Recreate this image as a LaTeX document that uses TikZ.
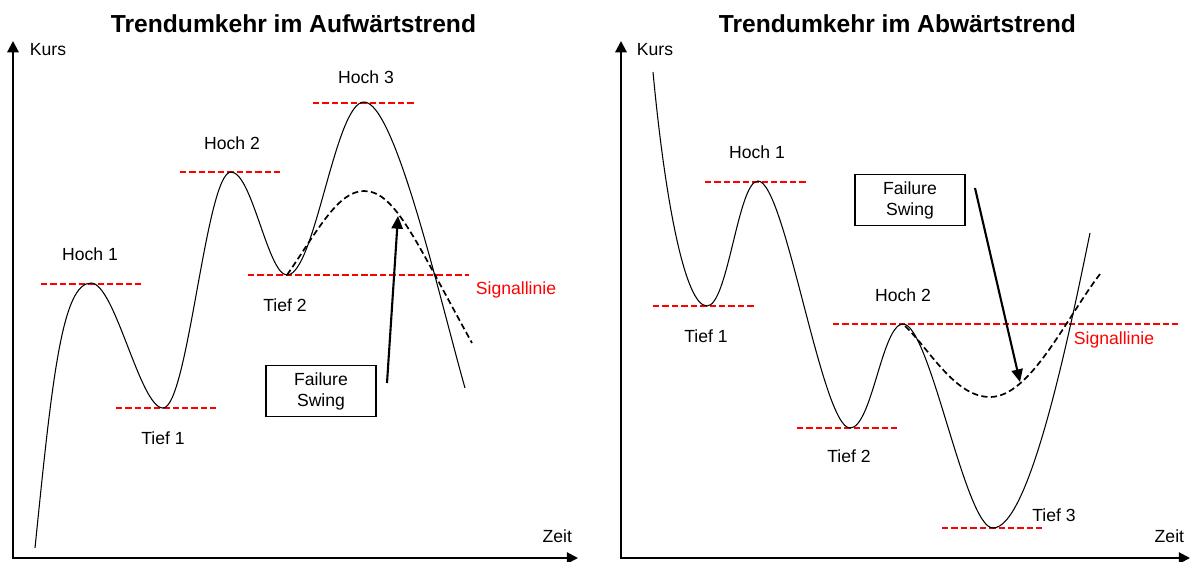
\documentclass[tikz,border=0pt]{standalone}
\usepackage{fontspec}
\setmainfont{Liberation Sans}
\usetikzlibrary{arrows.meta}

\begin{document}
\begin{tikzpicture}[x=0.025cm,y=-0.025cm,
        axis/.style={line width=1.5pt,>={Triangle[length=8pt,width=8pt]}},
        curve/.style={line width=0.75pt},
        swing/.style={line width=1.2pt,dash pattern=on 4.4pt off 2.4pt},
        level/.style={red,line width=1.4pt,dash pattern=on 4.6pt off 2.1pt},
        lbl/.style={font=\fontsize{12.5}{14}\selectfont},
        ttl/.style={font=\fontsize{17.5}{20}\selectfont\bfseries,anchor=west},
        box/.style={draw,line width=1pt,align=center,minimum width=2.75cm,minimum height=1.275cm,font=\fontsize{12.5}{15}\selectfont},
        fail/.style={line width=1.5pt,-{Triangle[length=9pt,width=8pt]}}]
    \useasboundingbox (0,0) rectangle (1191,561);

    % ---------- Left: Aufwaertstrend ----------
    \node[ttl] (ttlL) at (106,24) {Trendumkehr im Aufwärtstrend};

    % Axes
    \coordinate (oL) at (13,558);
    \coordinate (yL) at (13,41);
    \coordinate (xL) at (578,558);
    \draw[axis,<->] (yL) -- (oL) -- (xL);
    \node[lbl,anchor=west] (kursL) at (25,50) {Kurs};
    \node[lbl,anchor=east] (zeitL) at (577,536) {Zeit};

    % Levels
    \draw[level] (41,284) -- (141,284);
    \draw[level] (116,408) -- (216,408);
    \draw[level] (180,172) -- (280,172);
    \draw[level] (313,103) -- (415,103);
    \draw[level] (248,275) -- (469,275);

    % Curve
    \draw[curve] (35,548) .. controls (52,380) and (62,283) .. (91,283)
        .. controls (115,283) and (140,408) .. (163,408)
        .. controls (188,408) and (206,172) .. (231,172)
        .. controls (252,172) and (268,275) .. (287,275)
        .. controls (315,275) and (335,102) .. (364,102)
        .. controls (395,102) and (440,300) .. (465,388);
    \draw[swing] (287,275) .. controls (318,230) and (338,191) .. (364,191)
        .. controls (395,191) and (415,240) .. (472,343);

    % Annotations
    \node[lbl] (hoch1L) at (90,254) {Hoch 1};
    \node[lbl] (tief1L) at (163,438) {Tief 1};
    \node[lbl] (hoch2L) at (232,143) {Hoch 2};
    \node[lbl] (tief2L) at (285,305) {Tief 2};
    \node[lbl] (hoch3L) at (366,77) {Hoch 3};
    \node[lbl,red] (signalL) at (516,290) {Signallinie};
    \node[box] (failL) at (321,391) {Failure\\Swing};
    \coordinate (fromL) at (387,383);
    \coordinate (toL) at (398,216);
    \draw[fail] (fromL) -- (toL);

    % ---------- Right: Abwaertstrend ----------
    \node[ttl] (ttlR) at (714,24) {Trendumkehr im Abwärtstrend};

    % Axes
    \coordinate (oR) at (621,558);
    \coordinate (yR) at (621,41);
    \coordinate (xR) at (1190,558);
    \draw[axis,<->] (yR) -- (oR) -- (xR);
    \node[lbl,anchor=west] (kursR) at (632,50) {Kurs};
    \node[lbl,anchor=east] (zeitR) at (1189,536) {Zeit};

    % Levels
    \draw[level] (653,306) -- (755,306);
    \draw[level] (705,182) -- (806,182);
    \draw[level] (797,428) -- (897,428);
    \draw[level] (942,528) -- (1042,528);
    \draw[level] (833,324) -- (1178,324);

    % Curve
    \draw[curve] (653,72) .. controls (665,200) and (685,306) .. (707,306)
        .. controls (728,306) and (738,181) .. (758,181)
        .. controls (785,181) and (822,428) .. (850,428)
        .. controls (872,428) and (882,324) .. (903,324)
        .. controls (930,324) and (965,528) .. (993,528)
        .. controls (1030,528) and (1070,330) .. (1090,233);
    \draw[swing] (905,326) .. controls (930,350) and (955,397) .. (990,397)
        .. controls (1030,397) and (1065,320) .. (1100,274);

    % Annotations
    \node[lbl] (hoch1R) at (757,152) {Hoch 1};
    \node[lbl] (tief1R) at (706,336) {Tief 1};
    \node[lbl] (hoch2R) at (903,295) {Hoch 2};
    \node[lbl] (tief2R) at (849,456) {Tief 2};
    \node[lbl] (tief3R) at (1054,515) {Tief 3};
    \node[lbl,red] (signalR) at (1114,340) {Signallinie};
    \node[box] (failR) at (910,200) {Failure\\Swing};
    \coordinate (fromR) at (975,188);
    \coordinate (toR) at (1020,382);
    \draw[fail] (fromR) -- (toR);
\end{tikzpicture}
\end{document}
